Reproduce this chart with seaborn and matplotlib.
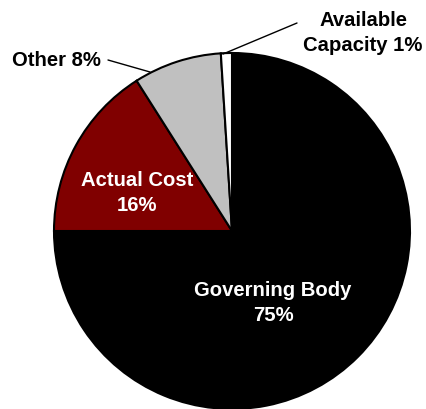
import numpy as np
import matplotlib
matplotlib.use("Agg")
import matplotlib.pyplot as plt
import seaborn as sns

# Budget split (percent)
labels = ["Governing Body", "Actual Cost", "Other", "Available Capacity"]
values = [75, 16, 8, 1]
colors = ["#000000", "#800000", "#c0c0c0", "#ffffff"]

sns.set_style("white")
plt.rcParams["font.family"] = ["Liberation Sans", "DejaVu Sans"]
plt.rcParams["text.color"] = "black"

W, H = 427, 410
fig = plt.figure(figsize=(W / 100, H / 100), dpi=100)
cx, cy, r = 232, 232, 178
ax = fig.add_axes([(cx - r) / W, (H - cy - r) / H, 2 * r / W, 2 * r / H])

ax.pie(values, colors=colors, startangle=90, counterclock=False,
       wedgeprops=dict(edgecolor="black", linewidth=1.5), radius=1.0)
ax.set_xlim(-1.0, 1.0)
ax.set_ylim(-1.0, 1.0)
ax.axis("off")


def px(x, y):
    return ((x - cx) / r, (cy - y) / r)


fs = 14.6
ls = 1.38
ax.text(*px(137, 193), "Actual Cost\n16%", ha="center", va="center",
        color="white", fontsize=fs, fontweight="bold", linespacing=ls)
ax.text(*px(273, 303), "Governing Body\n75%", ha="center", va="center",
        color="white", fontsize=fs, fontweight="bold", linespacing=ls)

# outside labels with leader lines
ax.text(*px(56, 60), "Other 8%", ha="center", va="center",
        fontsize=fs, fontweight="bold", color="black", clip_on=False)
ax.annotate("", xy=px(150, 73), xytext=px(108, 61),
            arrowprops=dict(arrowstyle="-", color="black", lw=1, shrinkA=0, shrinkB=0),
            annotation_clip=False)
ax.text(*px(363, 33), "Available\nCapacity 1%", ha="center", va="center",
        fontsize=fs, fontweight="bold", color="black", linespacing=ls, clip_on=False)
ax.annotate("", xy=px(223, 55), xytext=px(297, 24),
            arrowprops=dict(arrowstyle="-", color="black", lw=1, shrinkA=0, shrinkB=0),
            annotation_clip=False)

fig.savefig("out.png", dpi=100)
